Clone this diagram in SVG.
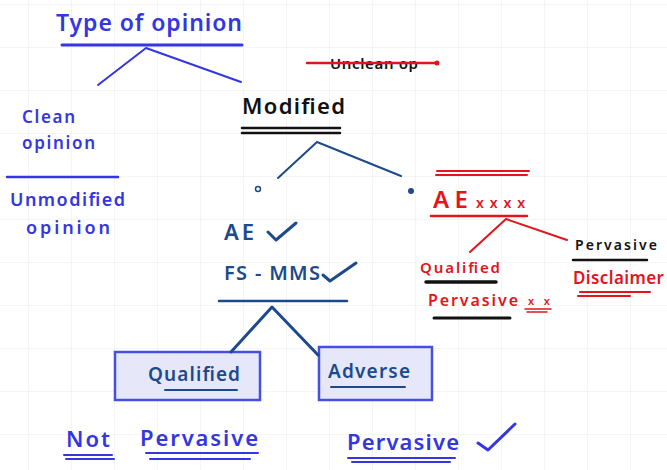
<svg xmlns="http://www.w3.org/2000/svg" width="667" height="470" viewBox="0 0 667 470">
  <defs>
    <pattern id="grid" x="28" y="4" width="43" height="43" patternUnits="userSpaceOnUse">
      <path d="M0 0 H43 M0 0 V43" fill="none" stroke="#ececec" stroke-width="1"/>
    </pattern>
    <style>
      text { font-family: "Noto Sans", "Liberation Sans", sans-serif; font-weight: 600; }
      .blue { fill: #3436e0; }
      .navy { fill: #1c4a8c; }
      .red { fill: #e2141c; }
      .black { fill: #111; }
      .ln { fill: none; stroke-linecap: round; stroke-linejoin: round; }
      .lb { stroke: #3436e0; }
      .ln-navy { stroke: #1c4a8c; }
      .lr { stroke: #e2141c; }
      .lk { stroke: #111; }
      .box { fill: #e6e8fa; stroke: #4650e0; stroke-width: 2.5; }
    </style>
  </defs>

  <rect width="667" height="470" fill="#ffffff"/>
  <rect width="667" height="470" fill="url(#grid)"/>

  <!-- heading -->
  <g id="title">
    <text x="56" y="31" font-size="23" class="blue" textLength="186" lengthAdjust="spacing">Type of opinion</text>
    <path class="ln lb" d="M62 45 H242" stroke-width="3"/>
  </g>

  <g id="clean">
    <text x="22" y="123" font-size="17" class="blue" textLength="53" lengthAdjust="spacing">Clean</text>
    <text x="22" y="149" font-size="17" class="blue" textLength="73" lengthAdjust="spacing">opinion</text>
    <path class="ln lb" d="M7 177 H118" stroke-width="2.5"/>
    <text x="10" y="206" font-size="18" class="blue" textLength="115" lengthAdjust="spacing">Unmodified</text>
    <text x="26" y="234" font-size="18" class="blue" textLength="84" lengthAdjust="spacing">opinion</text>
  </g>

  <g id="unclean">
    <text x="330" y="69" font-size="15" font-weight="bold" class="black" textLength="88" lengthAdjust="spacing">Unclean op</text>
    <path class="ln lr" d="M307 63 H437" stroke-width="2.5"/>
    <circle cx="437" cy="63" r="2.5" fill="#e2141c"/>
  </g>

  <g id="modified">
    <text x="242" y="114" font-size="22" class="black" textLength="103" lengthAdjust="spacing">Modified</text>
    <path class="ln lk" d="M242 128 H340 M242 133 H340" stroke-width="2.5"/>
  </g>

  <g id="ae-ok">
    <circle cx="258" cy="189" r="2.5" fill="none" stroke="#1c4a8c" stroke-width="1.5"/>
    <text x="224" y="240" font-size="22" class="navy" textLength="30" lengthAdjust="spacing">AE</text>
    <path class="ln ln-navy" d="M268 232 L276 240 L296 223" stroke-width="3"/>
    <text x="224" y="280" font-size="20" class="navy" textLength="96" lengthAdjust="spacing">FS - MMS</text>
    <path class="ln ln-navy" d="M323 275 L330 281 L356 263" stroke-width="3"/>
    <path class="ln ln-navy" d="M219 301 H347" stroke-width="2.5"/>
  </g>

  <g id="qualified">
    <rect class="box" x="115" y="352" width="145" height="48"/>
    <text x="148" y="381" font-size="19" class="navy" textLength="92" lengthAdjust="spacing">Qualified</text>
    <path class="ln ln-navy" d="M165 390 H237" stroke-width="2"/>
  </g>

  <g id="adverse">
    <rect class="box" x="319" y="347" width="113" height="53"/>
    <text x="328" y="378" font-size="19" class="navy" textLength="82" lengthAdjust="spacing">Adverse</text>
    <path class="ln ln-navy" d="M331 387 H405" stroke-width="2"/>
  </g>

  <g id="not-pervasive">
    <text x="66" y="447" font-size="22" class="blue" textLength="44" lengthAdjust="spacing">Not</text>
    <path class="ln lb" d="M64 455 H112 M66 459 H114" stroke-width="2"/>
    <text x="140" y="446" font-size="22" class="blue" textLength="118" lengthAdjust="spacing">Pervasive</text>
    <path class="ln lb" d="M146 453 H258 M150 459 H250" stroke-width="2"/>
  </g>

  <g id="pervasive">
    <text x="347" y="450" font-size="22" class="blue" textLength="112" lengthAdjust="spacing">Pervasive</text>
    <path class="ln lb" d="M348 458 H455 M352 462 H450" stroke-width="2"/>
    <path class="ln lb" d="M478 443 L488 450 L515 424" stroke-width="3"/>
  </g>

  <g id="ae-fail">
    <circle cx="411" cy="191" r="3" fill="#1c4a8c"/>
    <path class="ln lr" d="M437 171 H529 M436 175 H527" stroke-width="2"/>
    <text x="433" y="208" font-size="24" class="red" textLength="35" lengthAdjust="spacing">AE</text>
    <text x="476" y="208" font-size="14" font-weight="bold" class="red" textLength="49" lengthAdjust="spacing">xxxx</text>
    <path class="ln lr" d="M431 216 H527" stroke-width="2.5"/>
  </g>

  <g id="red-qualified">
    <text x="420" y="273" font-size="15" font-weight="bold" class="red" textLength="80" lengthAdjust="spacing">Qualified</text>
    <path class="ln lk" d="M426 282 H496" stroke-width="3.5"/>
    <text x="428" y="306" font-size="16" font-weight="bold" class="red" textLength="90" lengthAdjust="spacing">Pervasive</text>
    <text x="528" y="305" font-size="11" font-weight="bold" class="red" textLength="22" lengthAdjust="spacing">xx</text>
    <path class="ln lr" d="M525 309 H551 M527 312 H547" stroke-width="1.5"/>
    <path class="ln lk" d="M434 318 H510" stroke-width="3"/>
  </g>

  <g id="disclaimer">
    <text x="575" y="250" font-size="14" font-weight="bold" class="black" textLength="82" lengthAdjust="spacing">Pervasive</text>
    <path class="ln lk" d="M573 260 H647" stroke-width="2.5"/>
    <text x="573" y="284" font-size="17" font-weight="bold" class="red" textLength="91" lengthAdjust="spacing">Disclaimer</text>
    <path class="ln lr" d="M580 292 H650 M578 296 H630" stroke-width="2"/>
  </g>

  <!-- connectors -->
  <g id="connectors" class="ln" stroke-width="2">
    <path class="lb" d="M98 85 L146 48 L241 82"/>
    <path class="ln-navy" d="M278 178 L317 142 L401 176"/>
    <path class="ln-navy" d="M231 352 L272 307 L318 355" stroke-width="3"/>
    <path class="lr" d="M470 252 L506 219 L567 240"/>
  </g>
</svg>
